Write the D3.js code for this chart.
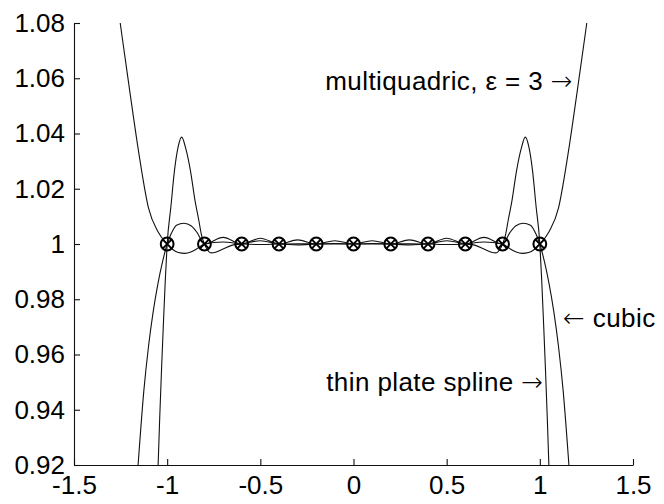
<!DOCTYPE html>
<html>
<head>
<meta charset="utf-8">
<script src="https://cdn.jsdelivr.net/npm/d3@7"></script>
<style>
  html, body { margin: 0; padding: 0; background: #fff; }
  svg { display: block; }
  text { font-family: "Liberation Sans", Arial, Helvetica, sans-serif; }
</style>
</head>
<body>
<script>
// Interpolation nodes: constant data f = 1 on 11 equispaced points in [-1, 1]
const nodeX = [-1, -0.8, -0.6, -0.4, -0.2, 0, 0.2, 0.4, 0.6, 0.8, 1];
const nodeY = [1, 1, 1, 1, 1, 1, 1, 1, 1, 1, 1];

// Multiquadric interpolant, epsilon = 3
const mqX = [-1.30, -1.25, -1.20, -1.15, -1.10, -1.05, -1.0, -0.97, -0.94, -0.905, -0.87, -0.835, -0.8,
             -0.7, -0.6, -0.5, -0.4, -0.3, -0.2, -0.1, 0, 0.1, 0.2, 0.3, 0.4, 0.5, 0.6, 0.7,
             0.8, 0.835, 0.87, 0.905, 0.94, 0.97, 1.0, 1.05, 1.10, 1.15, 1.20, 1.25, 1.30];
const mqY = [1.105, 1.079, 1.055, 1.032, 1.013, 1.0045, 1.0, 0.998, 0.9969, 0.9966, 0.9972, 0.9985, 1.0,
             1.0007, 1.0, 0.9998, 1.0, 1.0001, 1.0, 1.0, 1.0, 1.0, 1.0, 1.0001, 1.0, 0.9998, 1.0, 1.0007,
             1.0, 0.9985, 0.9972, 0.9966, 0.9969, 0.998, 1.0, 1.0045, 1.013, 1.032, 1.055, 1.079, 1.105];

// Thin plate spline interpolant
const tpsX = [-1.06, -1.05, -1.04, -1.03, -1.02, -1.01, -1.0, -0.98, -0.96, -0.94, -0.922, -0.9, -0.875,
              -0.85, -0.83, -0.815, -0.8, -0.785, -0.765, -0.74, -0.7, -0.65, -0.6, -0.5, -0.4, -0.3,
              -0.2, -0.1, 0, 0.1, 0.2, 0.3, 0.4, 0.5, 0.6, 0.65, 0.7, 0.74, 0.765, 0.785, 0.8, 0.815,
              0.83, 0.85, 0.875, 0.9, 0.922, 0.94, 0.96, 0.98, 1.0, 1.01, 1.02, 1.03, 1.04, 1.05, 1.06];
const tpsY = [0.896, 0.917, 0.937, 0.955, 0.9715, 0.987, 1.0, 1.0135, 1.027, 1.0355, 1.0387, 1.0345, 1.0265,
              1.0155, 1.0085, 1.003, 1.0, 0.998, 0.9968, 0.997, 0.9982, 0.9996, 1.0, 1.0012, 1.0, 0.9997,
              1.0, 1.0002, 1.0, 1.0002, 1.0, 0.9997, 1.0, 1.0012, 1.0, 0.9996, 0.9982, 0.997, 0.9968, 0.998, 1.0, 1.003,
              1.0085, 1.0155, 1.0265, 1.0345, 1.0387, 1.0355, 1.027, 1.0135, 1.0, 0.987, 0.9715, 0.955, 0.937, 0.917, 0.896];

// Cubic interpolant
const cubicX = [-1.18, -1.155, -1.125, -1.1, -1.075, -1.05, -1.025, -1.0, -0.98, -0.95, -0.91, -0.87, -0.84,
                -0.8, -0.7, -0.6, -0.5, -0.4, -0.3, -0.2, -0.1, 0, 0.1, 0.2, 0.3, 0.4, 0.5, 0.6, 0.7, 0.8,
                0.84, 0.87, 0.91, 0.95, 0.98, 1.0, 1.025, 1.05, 1.075, 1.1, 1.125, 1.155, 1.18];
const cubicY = [0.897, 0.921, 0.947, 0.963, 0.9755, 0.9855, 0.9935, 1.0, 1.0035, 1.0068, 1.0075, 1.0065, 1.0042,
                1.0, 1.0024, 1.0, 1.0021, 1.0, 1.0015, 1.0, 1.0012, 1.0, 1.0012, 1.0, 1.0015, 1.0, 1.0021, 1.0, 1.0024, 1.0,
                1.0042, 1.0065, 1.0075, 1.0068, 1.0035, 1.0, 0.9935, 0.9855, 0.9755, 0.963, 0.947, 0.921, 0.897];

// Axis ticks
const xTicks = [-1.5, -1, -0.5, 0, 0.5, 1, 1.5];
const xTickLabels = ["-1.5", "-1", "-0.5", "0", "0.5", "1", "1.5"];
const yTicks = [0.92, 0.94, 0.96, 0.98, 1, 1.02, 1.04, 1.06, 1.08];
const yTickLabels = ["0.92", "0.94", "0.96", "0.98", "1", "1.02", "1.04", "1.06", "1.08"];

const W = 664, H = 504;
const x = d3.scaleLinear().domain([-1.5, 1.5]).range([74, 633]);
const y = d3.scaleLinear().domain([0.92, 1.08]).range([465, 23]);

const svg = d3.select("body").append("svg").attr("width", W).attr("height", H);

svg.append("defs").append("clipPath").attr("id", "plotclip")
  .append("rect")
  .attr("x", x(-1.5)).attr("y", y(1.08))
  .attr("width", x(1.5) - x(-1.5)).attr("height", y(0.92) - y(1.08));

const line = d3.line()
  .x(d => x(d[0]))
  .y(d => y(d[1]))
  .curve(d3.curveMonotoneX);

const series = [
  d3.zip(mqX, mqY),
  d3.zip(tpsX, tpsY),
  d3.zip(cubicX, cubicY)
];

const curves = svg.append("g").attr("clip-path", "url(#plotclip)");
curves.selectAll("path")
  .data(series)
  .join("path")
  .attr("d", line)
  .attr("fill", "none")
  .attr("stroke", "#111")
  .attr("stroke-width", 1.1);

// Axes: MATLAB-style with inward ticks, left and bottom only
const fontSize = 26;
const xAxis = d3.axisBottom(x)
  .tickValues(xTicks)
  .tickFormat((d, i) => xTickLabels[i])
  .tickSizeInner(-6).tickSizeOuter(0).tickPadding(11);
const yAxis = d3.axisLeft(y)
  .tickValues(yTicks)
  .tickFormat((d, i) => yTickLabels[i])
  .tickSizeInner(-6).tickSizeOuter(0).tickPadding(9);

const gx = svg.append("g").attr("transform", `translate(0,${y(0.92)})`).call(xAxis);
const gy = svg.append("g").attr("transform", `translate(${x(-1.5)},0)`).call(yAxis);
[gx, gy].forEach(g => {
  g.select(".domain").attr("stroke", "#111").attr("stroke-width", 1.1);
  g.selectAll(".tick line").attr("stroke", "#111").attr("stroke-width", 1.1);
  g.selectAll(".tick text")
    .attr("fill", "#000")
    .style("font-family", "'Liberation Sans', Arial, sans-serif")
    .style("font-size", fontSize + "px");
});

// Node markers: circle with a cross
const nodes = svg.append("g").selectAll("g")
  .data(d3.zip(nodeX, nodeY))
  .join("g")
  .attr("transform", d => `translate(${x(d[0])},${y(d[1])})`);
nodes.append("circle")
  .attr("r", 6.4)
  .attr("fill", "none")
  .attr("stroke", "#000")
  .attr("stroke-width", 2);
const arm = 4.6;
nodes.append("path")
  .attr("d", `M${-arm},${-arm}L${arm},${arm}M${-arm},${arm}L${arm},${-arm}`)
  .attr("stroke", "#000")
  .attr("stroke-width", 1.9);

// Curve annotations; arrows set in DejaVu Sans for a full-width glyph
const notes = svg.append("g")
  .style("font-family", "'Liberation Sans', Arial, sans-serif")
  .style("font-size", fontSize + "px")
  .style("letter-spacing", "0.4px")
  .attr("fill", "#000");
const arrowFont = "'DejaVu Sans', sans-serif";

const mqNote = notes.append("text")
  .attr("x", x(1.178)).attr("y", y(1.0557))
  .attr("text-anchor", "end");
mqNote.append("tspan").text("multiquadric, \u03B5 = 3 ");
mqNote.append("tspan").style("font-family", arrowFont).style("font-weight", 200).text("\u2192");

const cubicNote = notes.append("text")
  .attr("x", x(1.1245)).attr("y", y(0.970))
  .attr("text-anchor", "start");
cubicNote.append("tspan").style("font-family", arrowFont).style("font-weight", 200).text("\u2190");
cubicNote.append("tspan").text(" cubic");

const tpsNote = notes.append("text")
  .attr("x", x(1.02)).attr("y", y(0.9468))
  .attr("text-anchor", "end");
tpsNote.append("tspan").text("thin plate spline ");
tpsNote.append("tspan").style("font-family", arrowFont).style("font-weight", 200).text("\u2192");
</script>
</body>
</html>
